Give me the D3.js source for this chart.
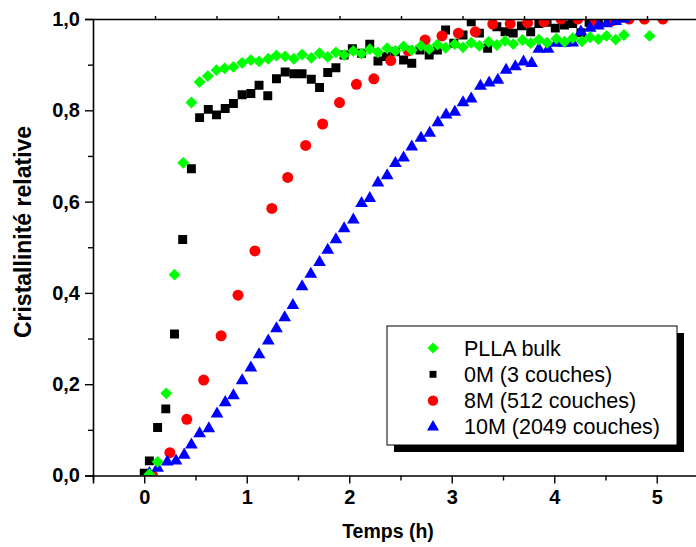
<!DOCTYPE html>
<html><head><meta charset="utf-8">
<script src="https://cdn.jsdelivr.net/npm/d3@7"></script>
<style>body{margin:0;background:#fff}svg{display:block}</style>
</head><body>
<svg id="chart" width="696" height="547"></svg>
<script>
// ---- data ----
const seriesNames = ["PLLA bulk", "0M (3 couches)", "8M (512 couches)", "10M (2049 couches)"];
const xTickLabels = [0, 1, 2, 3, 4, 5];
const yTickLabels = [0, 0.2, 0.4, 0.6, 0.8, 1.0];

const pllaT = [0.05,0.13,0.215,0.295,0.38,0.46,0.54,0.62,0.705,0.785,0.87,0.955,1.04,1.12,1.21,1.29,1.375,
  1.46,1.54,1.63,1.71,1.79,1.87,1.95,2.04,2.12,2.20,2.28,2.37,2.45,2.53,2.61,2.70,2.78,2.86,2.94,3.03,3.11,3.19,
  3.27,3.36,3.44,3.52,3.60,3.69,3.77,3.85,3.93,4.02,4.10,4.18,4.27,4.35,4.43,4.51,4.60,4.68,4.93];
const pllaV = [0.003,0.03,0.18,0.44,0.685,0.817,0.862,0.875,0.888,0.892,0.895,0.904,0.910,0.907,0.913,0.920,0.918,
  0.913,0.922,0.915,0.925,0.917,0.927,0.921,0.930,0.924,0.934,0.927,0.936,0.930,0.940,0.932,0.941,0.934,0.944,0.937,0.945,0.938,0.948,
  0.941,0.950,0.943,0.952,0.945,0.954,0.947,0.955,0.948,0.957,0.950,0.958,0.951,0.960,0.956,0.963,0.955,0.965,0.963];

const m0T = [0.0,0.05,0.13,0.21,0.295,0.375,0.46,0.54,0.625,0.705,0.79,0.87,0.955,1.04,1.12,1.205,1.29,1.375,
  1.46,1.54,1.63,1.71,1.79,1.87,1.95,2.03,2.12,2.20,2.28,2.36,2.45,2.53,2.61,2.69,2.78,2.86,2.94,3.02,3.11,3.19,
  3.27,3.35,3.44,3.52,3.60,3.68,3.77,3.85,3.93,4.01,4.10,4.18,4.26,4.34,4.43];
const m0V = [0.005,0.032,0.105,0.146,0.31,0.517,0.672,0.784,0.802,0.790,0.804,0.815,0.834,0.837,0.855,0.832,0.869,0.884,
  0.880,0.880,0.868,0.850,0.883,0.893,0.921,0.935,0.925,0.945,0.908,0.918,0.928,0.910,0.903,0.932,0.921,0.932,0.976,0.947,0.965,0.994,
  0.969,0.936,0.983,0.972,0.969,0.985,0.972,0.990,0.993,0.980,0.987,0.990,0.970,0.993,0.990];

const m8T = [0.08,0.25,0.415,0.58,0.75,0.915,1.08,1.245,1.40,1.575,1.74,1.905,2.07,2.24,2.405,2.575,2.74,2.905,3.065,3.23,
  3.40,3.57,3.74,3.90,4.065,4.23,4.395,4.565,4.73,4.88,5.06];
const m8V = [0.0,0.05,0.123,0.209,0.306,0.395,0.492,0.585,0.653,0.723,0.77,0.817,0.857,0.869,0.909,0.93,0.954,0.963,0.969,0.972,
  0.989,0.99,0.992,0.994,1.0,1.0,0.992,0.996,1.0,1.0,1.0];

const m10T = [0.05,0.13,0.225,0.31,0.39,0.46,0.54,0.63,0.71,0.79,0.87,0.955,1.04,1.12,1.21,1.29,1.37,1.45,
  1.54,1.625,1.71,1.79,1.87,1.95,2.04,2.12,2.20,2.28,2.37,2.45,2.53,2.61,2.70,2.785,2.865,2.945,3.03,3.11,3.19,
  3.28,3.365,3.45,3.53,3.62,3.70,3.78,3.85,3.94,4.02,4.10,4.18,4.26,4.35,4.43,4.51,4.60,4.68];
const m10V = [0.005,0.016,0.030,0.032,0.045,0.067,0.092,0.103,0.135,0.160,0.175,0.208,0.236,0.265,0.295,0.322,0.346,0.373,
  0.414,0.441,0.467,0.494,0.517,0.541,0.560,0.596,0.607,0.641,0.657,0.684,0.696,0.720,0.739,0.750,0.773,0.790,0.796,0.817,0.825,
  0.853,0.860,0.866,0.888,0.896,0.906,0.903,0.934,0.934,0.947,0.947,0.948,0.972,0.980,0.985,0.990,0.995,1.0];

// top-axis secondary ticks (in x units)
const topTicks = [0.105,0.705,1.305,1.905,2.505,3.105,3.705,4.305,4.905,5.505];

// ---- chart ----
const svg = d3.select("#chart");
const L = 93, T = 19, B = 475.5;
const x = d3.scaleLinear().domain([-0.5, 5.5]).range([L, L + 6 * 102.5]);
const y = d3.scaleLinear().domain([0, 1]).range([B, T]);
const R = x(5.5);

svg.append("defs").append("clipPath").attr("id", "clip")
  .append("rect").attr("x", L).attr("y", T).attr("width", R - L).attr("height", B - T);

const plot = svg.append("g").attr("clip-path", "url(#clip)");

function pts(tArr, vArr) { return tArr.map((t, i) => ({t, v: vArr[i]})); }

const series = [
  {data: pts(m0T, m0V), color: "#000000", sym: d3.symbolSquare, size: 80, rot: 0},
  {data: pts(m8T, m8V), color: "#ff0000", sym: d3.symbolCircle, size: 95, rot: 0},
  {data: pts(m10T, m10V), color: "#0000ff", sym: d3.symbolTriangle, size: 70, rot: 0},
  {data: pts(pllaT, pllaV), color: "#00ff00", sym: d3.symbolSquare, size: 70, rot: 45}
];

series.forEach(s => {
  plot.append("g").selectAll("path").data(s.data).enter().append("path")
    .attr("transform", d => `translate(${x(d.t)},${y(d.v)}) rotate(${s.rot})`)
    .attr("d", d3.symbol().type(s.sym).size(s.size))
    .attr("fill", s.color);
});

// axes
const fmtY = d => d.toFixed(1).replace(".", ",");
const axisFont = "'Liberation Sans', Arial, sans-serif";

const gx = svg.append("g").attr("transform", `translate(0,${B})`)
  .call(d3.axisBottom(x).tickValues(xTickLabels).tickFormat(d3.format("d")).tickSize(8).tickPadding(6));
svg.append("g").attr("transform", `translate(0,${B})`)
  .call(d3.axisBottom(x).tickValues([-0.5,0.5,1.5,2.5,3.5,4.5,5.5]).tickFormat("").tickSize(5))
  .select(".domain").remove();
const gy = svg.append("g").attr("transform", `translate(${L},0)`)
  .call(d3.axisLeft(y).tickValues(yTickLabels).tickFormat(fmtY).tickSize(8).tickPadding(5));
svg.append("g").attr("transform", `translate(${L},0)`)
  .call(d3.axisLeft(y).tickValues([0.1,0.3,0.5,0.7,0.9]).tickFormat("").tickSize(5))
  .select(".domain").remove();
// top line
svg.append("g").attr("transform", `translate(0,${T})`)
  .call(d3.axisTop(x).tickValues(topTicks).tickFormat("").tickSize(3).tickSizeOuter(0));

svg.selectAll(".domain").attr("stroke", "#000").attr("stroke-width", 1.6);
svg.selectAll(".tick line").attr("stroke", "#000").attr("stroke-width", 1.4);
[gx, gy].forEach(g => g.selectAll("text")
  .attr("font-family", axisFont).attr("font-weight", "bold").attr("font-size", 20).attr("fill", "#000"));

// axis titles
svg.append("text").attr("x", 388).attr("y", 538).attr("text-anchor", "middle")
  .attr("font-family", axisFont).attr("font-weight", "bold").attr("font-size", 19.5).text("Temps (h)");
svg.append("text").attr("transform", `translate(31,232) rotate(-90)`).attr("text-anchor", "middle")
  .attr("font-family", axisFont).attr("font-weight", "bold").attr("font-size", 23).text("Cristallinité relative");

// legend
const lg = svg.append("g");
const lx = 387, ly = 326, lw = 290, lh = 119;
lg.append("rect").attr("x", lx + 7).attr("y", ly + 7).attr("width", lw).attr("height", lh).attr("fill", "#000");
lg.append("rect").attr("x", lx).attr("y", ly).attr("width", lw).attr("height", lh)
  .attr("fill", "#fff").attr("stroke", "#000").attr("stroke-width", 1);
const legendItems = [series[3], series[0], series[1], series[2]];
legendItems.forEach((s, i) => {
  const cy = ly + 22 + i * 26.3;
  lg.append("path").attr("transform", `translate(${lx + 46},${cy}) rotate(${s.rot})`)
    .attr("d", d3.symbol().type(s.sym).size(s.size * (i === 1 ? 0.6 : 0.9))).attr("fill", s.color);
  lg.append("text").attr("x", lx + 77).attr("y", cy + 7.5).attr("font-family", axisFont)
    .attr("font-size", 21.5).attr("fill", "#000").text(seriesNames[i]);
});
</script>
</body></html>
